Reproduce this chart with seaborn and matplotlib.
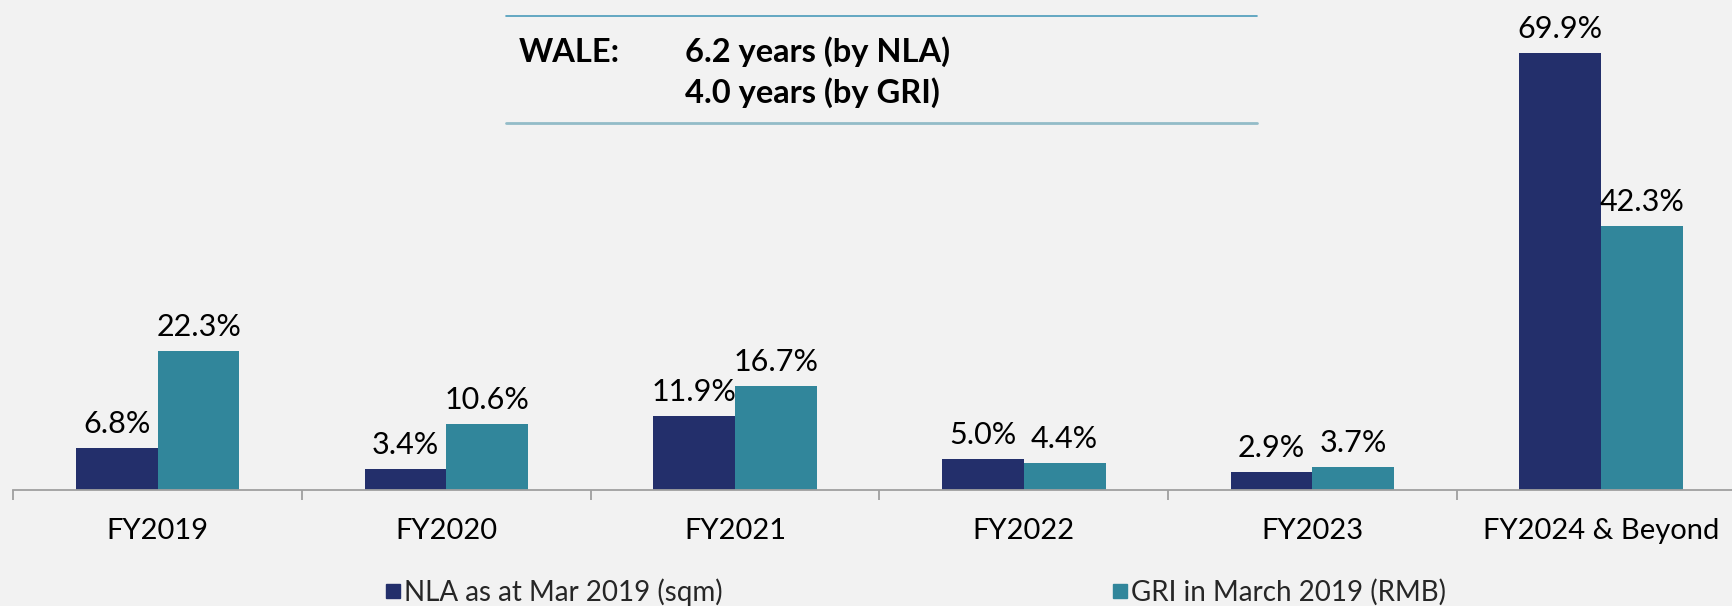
import numpy as np
import pandas as pd
import seaborn as sns
import matplotlib.pyplot as plt
from matplotlib.lines import Line2D

categories = ["FY2019", "FY2020", "FY2021", "FY2022", "FY2023", "FY2024 & Beyond"]
nla = [6.8, 3.4, 11.9, 5.0, 2.9, 69.9]
gri = [22.3, 10.6, 16.7, 4.4, 3.7, 42.3]
series = ["NLA as at Mar 2019 (sqm)", "GRI in March 2019 (RMB)"]
colors = ["#232F6B", "#31869B"]

df = pd.DataFrame({
    "cat": categories * 2,
    "series": [series[0]] * len(categories) + [series[1]] * len(categories),
    "value": nla + gri,
})

sns.set_theme(style="white")
plt.rcParams['font.family'] = ['Lato', 'DejaVu Sans']
BG = '#F2F2F2'
FS = 22

W, H = 1733, 606
fig = plt.figure(figsize=(W / 100, H / 100), dpi=100, facecolor=BG)
ax = fig.add_axes([13.3 / W, 116 / H, 6 * 288.7 / W, 75 * 6.25 / H])
ax.set_facecolor(BG)

sns.barplot(data=df, x='cat', y='value', hue='series', order=categories,
            hue_order=series, palette=colors, width=0.567, gap=0,
            saturation=1, legend=False, errorbar=None, linewidth=0,
            edgecolor='none', ax=ax)

ax.set_ylim(0, 75)
ax.set_xlim(-0.5, 5.5)
for c in ax.containers:
    ax.bar_label(c, fmt='%.1f%%', padding=7, fontsize=FS, color='black')

for s in ['top', 'left', 'right']:
    ax.spines[s].set_visible(False)
ax.spines['bottom'].set_color('#A0A0A0')
ax.spines['bottom'].set_linewidth(1.3)
ax.set_yticks([])
ax.set_xlabel('')
ax.set_ylabel('')
ax.tick_params(axis='x', which='major', bottom=True, length=0, pad=20,
               labelsize=21, labelcolor='black')
ax.set_xticks(np.arange(-0.5, 6, 1), minor=True)
ax.tick_params(axis='x', which='minor', bottom=True, length=7, width=1.3,
               color='#A0A0A0')

# WALE box
fig.add_artist(Line2D([506 / W, 1257 / W], [1 - 15.5 / H, 1 - 15.5 / H],
                      transform=fig.transFigure, color='#4A9BBA', lw=1.2))
fig.add_artist(Line2D([506 / W, 1257 / W], [1 - 123 / H, 1 - 123 / H],
                      transform=fig.transFigure, color='#93BCC8', lw=2))
WFS = 23.5
fig.text(519 / W, 1 - 52 / H, "WALE:", fontsize=WFS, weight='bold',
         va='center', ha='left', color='black')
fig.text(685 / W, 1 - 52 / H, "6.2 years (by NLA)", fontsize=WFS, weight='bold',
         va='center', ha='left', color='black')
fig.text(685 / W, 1 - 93 / H, "4.0 years (by GRI)", fontsize=WFS, weight='bold',
         va='center', ha='left', color='black')

# Legend
xs = [383, 1110]
for s, col, x in zip(series, colors, xs):
    h = Line2D([], [], marker='s', linestyle='none', markersize=10, color=col)
    fig.legend(handles=[h], labels=[s], loc='center left',
               bbox_to_anchor=(x / W, 14 / H), frameon=False, fontsize=20,
               handlelength=0.7, handletextpad=0.05, borderpad=0, borderaxespad=0)

fig.savefig('out.png', dpi=100, facecolor=BG)
